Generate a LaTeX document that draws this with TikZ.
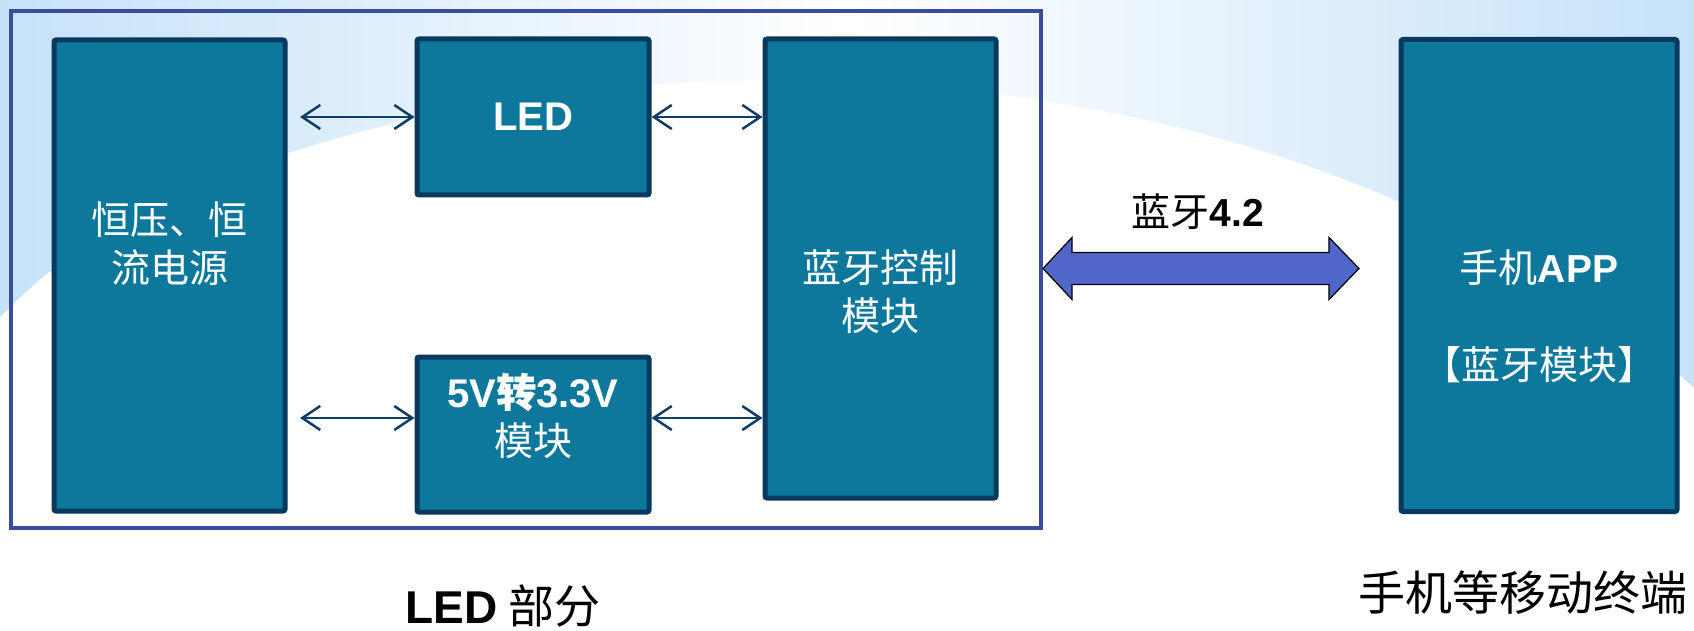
\documentclass[tikz,border=0pt]{standalone}
\usepackage{fontspec}
\setmainfont{Liberation Sans}
\newfontfamily\cjk{Noto Sans CJK SC}
\newfontfamily\cjkb[FakeBold=0.5]{Noto Sans CJK SC}
\usetikzlibrary{arrows.meta,positioning,calc}
\definecolor{boxfill}{RGB}{13,120,156}
\definecolor{boxline}{RGB}{7,58,94}
\definecolor{frameblue}{RGB}{58,76,160}
\definecolor{linkline}{RGB}{16,62,102}
\definecolor{btfill}{RGB}{80,102,200}
\definecolor{bgblue}{RGB}{198,226,249}
\begin{document}
\begin{tikzpicture}[x=1pt,y=-1pt,
  module/.style={rectangle,draw=boxline,fill=boxfill,line width=5pt,rounded corners=2pt,inner sep=0pt},
  modtext/.style={text=white,align=center,font=\cjk\fontsize{39pt}{48pt}\selectfont},
  link/.style={linkline,line width=2.5pt,{Straight Barb[length=18pt,width=24pt]}-{Straight Barb[length=18pt,width=24pt]}},
  caption/.style={text=black,font=\cjk\fontsize{46pt}{56pt}\selectfont}]
\useasboundingbox (0,0) rectangle (1694,631);
% background
\shade[left color=bgblue,right color=bgblue,middle color=white] (0,0) rectangle (1694,400);
\fill[white] (0,318) .. controls (240,50) and (1180,-70) .. (1694,388) |- (0,631) -- cycle;

% LED part
\node[draw=frameblue,line width=4pt,minimum width=1030pt,minimum height=517pt,inner sep=0pt] (ledpart) at (526,269.5) {};
\node[module,minimum width=231pt,minimum height=471pt] (psu) at (169.5,275.5) {};
\node[module,minimum width=232pt,minimum height=156pt] (led) at (533,117) {};
\node[module,minimum width=232pt,minimum height=155pt] (conv) at (533,434.5) {};
\node[module,minimum width=231pt,minimum height=459pt] (btc) at (880.5,268.5) {};
% phone
\node[module,minimum width=276pt,minimum height=472pt] (app) at (1539,275.5) {};

\node[modtext] (psu-t) at ([yshift=32pt]psu.center) {恒压、恒\\流电源};
\node[modtext,font=\bfseries\fontsize{40pt}{48pt}\selectfont] (led-t) at (led.center) {LED};
\node[modtext] (conv-t) at ([yshift=19pt]conv.center) {{\rmfamily\bfseries\fontsize{40pt}{48pt}\selectfont 5V{\cjkb 转}3.3V}\\模块};
\node[modtext] (btc-t) at ([yshift=-23pt]btc.center) {蓝牙控制\\模块};
\node[modtext] (app-t) at ([yshift=-41pt]app.center) {手机{\rmfamily\bfseries APP}\\[49pt]【蓝牙模块】};

% links
\coordinate (psu-a) at (300,117);
\coordinate (psu-b) at (300,418);
\draw[link] (psu-a) -- (led.west);
\draw[link] (led.east) -- (led.east -| btc.west);
\draw[link] (psu-b) -- (psu-b -| conv.west);
\draw[link] (psu-b -| conv.east) -- (psu-b -| btc.west);

% bluetooth 4.2
\coordinate (bt-l) at ([yshift=1pt]ledpart.east);
\draw[black,line width=1.2pt,fill=btfill] (bt-l) -- ++(29,-31) -- ++(0,15) -- ++(257,0) -- ++(0,-15) -- ++(30,31)
  -- ++(-30,31) -- ++(0,-15) -- ++(-257,0) -- ++(0,15) -- cycle;
\node[caption,font=\cjk\fontsize{39pt}{48pt}\selectfont] (bt-t) at (1198,212) {蓝牙{\rmfamily\bfseries 4.2}};

\node[caption] (ledpart-t) at (503,606) {{\rmfamily\bfseries LED} 部分};
\node[caption,font=\cjk\fontsize{47pt}{56pt}\selectfont] (app-c) at (1523,593) {手机等移动终端};
\end{tikzpicture}
\end{document}
